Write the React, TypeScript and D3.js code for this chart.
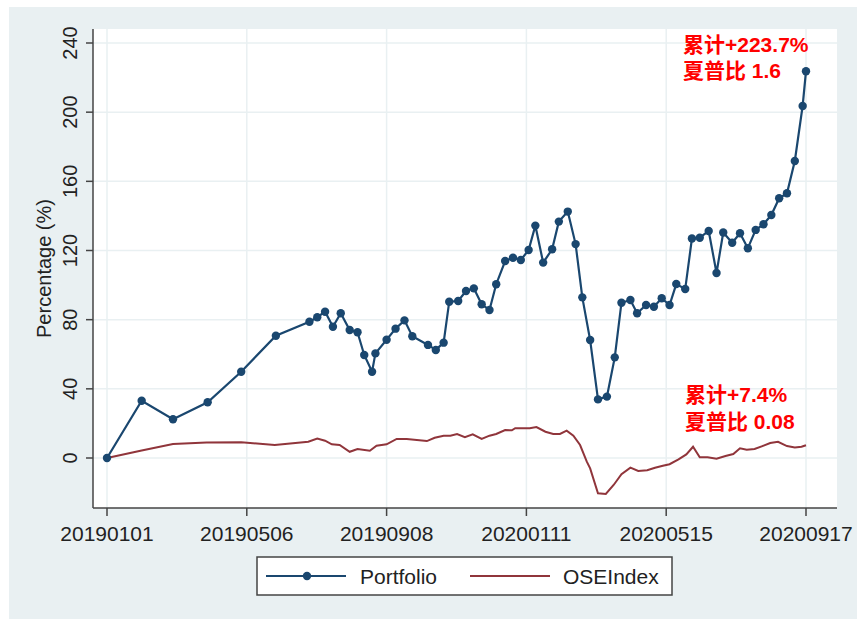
import React from "react";
import * as d3 from "d3";

const width = 859;
const height = 619;

// Portfolio cumulative return (%)
const portfolioDates = [
  "2019-01-01", "2019-02-01", "2019-03-01", "2019-04-01", "2019-05-01", "2019-06-01",
  "2019-07-01", "2019-07-08", "2019-07-15", "2019-07-22", "2019-07-29", "2019-08-06",
  "2019-08-13", "2019-08-19", "2019-08-26", "2019-08-29", "2019-09-08", "2019-09-16",
  "2019-09-24", "2019-10-01", "2019-10-15", "2019-10-22", "2019-10-29", "2019-11-03",
  "2019-11-11", "2019-11-18", "2019-11-25", "2019-12-02", "2019-12-09", "2019-12-15",
  "2019-12-23", "2019-12-30", "2020-01-06", "2020-01-13", "2020-01-19", "2020-01-26",
  "2020-02-03", "2020-02-09", "2020-02-17", "2020-02-24", "2020-03-01", "2020-03-08",
  "2020-03-15", "2020-03-23", "2020-03-30", "2020-04-05", "2020-04-13", "2020-04-19",
  "2020-04-27", "2020-05-04", "2020-05-11", "2020-05-18", "2020-05-24", "2020-06-01",
  "2020-06-07", "2020-06-14", "2020-06-22", "2020-06-29", "2020-07-05", "2020-07-13",
  "2020-07-20", "2020-07-27", "2020-08-03", "2020-08-10", "2020-08-17", "2020-08-24",
  "2020-08-31", "2020-09-07", "2020-09-14", "2020-09-17",
];
const portfolioValues = [
  0, 33.1, 22.4, 32.2, 49.9, 70.7,
  78.8, 81.4, 84.6, 75.9, 83.7, 74.0,
  72.7, 59.6, 49.9, 60.5, 68.4, 74.8,
  79.6, 70.4, 65.4, 62.5, 66.7, 90.4,
  90.8, 96.6, 98.1, 88.9, 85.6, 100.5,
  113.9, 115.8, 114.5, 120.3, 134.4, 113.0,
  120.7, 136.7, 142.5, 123.7, 92.9, 68.2,
  33.9, 35.5, 58.2, 89.8, 91.4, 83.7,
  88.5, 87.5, 92.4, 88.5, 100.6, 97.7,
  126.9, 127.4, 131.3, 107.0, 130.4, 124.5,
  130.0, 121.3, 131.9, 135.2, 140.5, 150.2,
  153.1, 171.8, 203.6, 223.7,
];

// OSE index cumulative return (%)
const oseDates = [
  "2019-01-01", "2019-02-01", "2019-03-01", "2019-03-31", "2019-05-01", "2019-05-31",
  "2019-06-30", "2019-07-08", "2019-07-15", "2019-07-21", "2019-07-28", "2019-08-06",
  "2019-08-13", "2019-08-24", "2019-08-30", "2019-09-08", "2019-09-17", "2019-09-26",
  "2019-10-14", "2019-10-21", "2019-10-29", "2019-11-04", "2019-11-10", "2019-11-17",
  "2019-11-24", "2019-12-02", "2019-12-09", "2019-12-15", "2019-12-23", "2019-12-29",
  "2020-01-01", "2020-01-14", "2020-01-20", "2020-01-28", "2020-02-04", "2020-02-10",
  "2020-02-16", "2020-02-22", "2020-02-28", "2020-03-05", "2020-03-08", "2020-03-15",
  "2020-03-22", "2020-03-29", "2020-04-05", "2020-04-13", "2020-04-20", "2020-04-28",
  "2020-05-05", "2020-05-12", "2020-05-18", "2020-05-26", "2020-06-02", "2020-06-08",
  "2020-06-14", "2020-06-21", "2020-06-29", "2020-07-07", "2020-07-14", "2020-07-20",
  "2020-07-26", "2020-08-02", "2020-08-09", "2020-08-16", "2020-08-23", "2020-08-31",
  "2020-09-07", "2020-09-13", "2020-09-17",
];
const oseValues = [
  0, 4.3, 8.1, 8.9, 9.1, 7.5,
  9.4, 11.2, 10.0, 7.9, 7.5, 3.6,
  5.2, 4.2, 7.1, 7.9, 11.0, 11.0,
  9.8, 11.7, 12.9, 12.9, 13.9, 12.1,
  13.7, 11.0, 12.9, 13.9, 16.2, 16.0,
  17.2, 17.2, 17.9, 15.2, 13.9, 13.9,
  15.8, 12.9, 7.5, -2.1, -6.0, -20.4,
  -20.8, -15.6, -9.4, -5.6, -7.5, -7.1,
  -5.6, -4.5, -3.6, -0.8, 2.1, 6.5,
  0.4, 0.4, -0.4, 1.2, 2.3, 5.6,
  4.8, 5.2, 6.9, 8.7, 9.4, 6.9,
  6.1, 6.5, 7.4,
];

const xTickLabels = ["20190101", "20190506", "20190908", "20200111", "20200515", "20200917"];
const yTicks = [0, 40, 80, 120, 160, 200, 240];
const seriesNames = ["Portfolio", "OSEIndex"];
const portfolioNote = ["累计+223.7%", "夏普比 1.6"];
const oseNote = ["累计+7.4%", "夏普比 0.08"];

const navy = "#1a476f";
const maroon = "#90353b";
const bg = "#e9f0f2";
const font = "'Liberation Sans', Arial, 'Noto Sans CJK SC', sans-serif";

const parseDay = d3.timeParse("%Y-%m-%d");
const parseTick = d3.timeParse("%Y%m%d");

// plot region
const left = 93;
const right = 837;
const top = 29;
const bottom = 508;

const x = d3
  .scaleTime()
  .domain([parseTick("20190101"), parseTick("20200917")])
  .range([107, 806]);
const y = d3.scaleLinear().domain([0, 240]).range([458, 43]);

const portfolio = portfolioDates.map((d, i) => ({ date: parseDay(d), value: portfolioValues[i] }));
const ose = oseDates.map((d, i) => ({ date: parseDay(d), value: oseValues[i] }));

const line = d3
  .line<{ date: Date; value: number }>()
  .x((d) => x(d.date))
  .y((d) => y(d.value));

export default function App() {
  return (
    <svg
      width={width}
      height={height}
      style={{ position: "absolute", left: 0, top: 0, background: "#fff" }}
      fontFamily={font}
    >
      <rect x={9} y={7} width={848} height={612} fill={bg} />
      <rect x={left} y={top} width={right - left} height={bottom - top} fill="#fff" />

      {/* grid */}
      {yTicks.map((t) => (
        <line key={"gy" + t} x1={left} x2={right} y1={y(t)} y2={y(t)} stroke={bg} strokeWidth={1.5} />
      ))}
      {xTickLabels.map((t) => (
        <line
          key={"gx" + t}
          x1={x(parseTick(t))}
          x2={x(parseTick(t))}
          y1={top}
          y2={bottom}
          stroke={bg}
          strokeWidth={1.5}
        />
      ))}

      {/* axes */}
      <line x1={left} x2={left} y1={top} y2={bottom} stroke="#444" strokeWidth={1.5} />
      <line x1={left} x2={right} y1={bottom} y2={bottom} stroke="#444" strokeWidth={1.5} />
      {yTicks.map((t) => (
        <g key={"ty" + t}>
          <line x1={left - 7} x2={left} y1={y(t)} y2={y(t)} stroke="#444" strokeWidth={1.5} />
          <text
            transform={`translate(77, ${y(t)}) rotate(-90)`}
            textAnchor="middle"
            fontSize={20}
            fill="#222"
          >
            {t}
          </text>
        </g>
      ))}
      {xTickLabels.map((t) => (
        <g key={"tx" + t}>
          <line
            x1={x(parseTick(t))}
            x2={x(parseTick(t))}
            y1={bottom}
            y2={bottom + 8}
            stroke="#444"
            strokeWidth={1.5}
          />
          <text x={x(parseTick(t))} y={541} textAnchor="middle" fontSize={21} fill="#222">
            {t}
          </text>
        </g>
      ))}
      <text
        transform={`translate(51, ${(top + bottom) / 2}) rotate(-90)`}
        textAnchor="middle"
        fontSize={20}
        fill="#222"
      >
        Percentage (%)
      </text>

      {/* series */}
      <path d={line(ose) || ""} fill="none" stroke={maroon} strokeWidth={2} />
      <path d={line(portfolio) || ""} fill="none" stroke={navy} strokeWidth={2.2} />
      {portfolio.map((d, i) => (
        <circle key={i} cx={x(d.date)} cy={y(d.value)} r={4.2} fill={navy} />
      ))}

      {/* notes */}
      <g fill="#ff0000" fontWeight="bold" fontSize={21}>
        {portfolioNote.map((s, i) => (
          <text key={s} x={683} y={52 + i * 26}>
            {s}
          </text>
        ))}
        {oseNote.map((s, i) => (
          <text key={s} x={685} y={402 + i * 27}>
            {s}
          </text>
        ))}
      </g>

      {/* legend */}
      <rect x={257} y={557} width={415} height={38} fill="#fff" stroke="#444" strokeWidth={1.5} />
      <line x1={266} x2={346} y1={576} y2={576} stroke={navy} strokeWidth={2} />
      <circle cx={307} cy={576} r={4.2} fill={navy} />
      <text x={360} y={584} fontSize={21} fill="#222">
        {seriesNames[0]}
      </text>
      <line x1={470} x2={550} y1={576} y2={576} stroke={maroon} strokeWidth={2} />
      <text x={563} y={584} fontSize={21} fill="#222">
        {seriesNames[1]}
      </text>
    </svg>
  );
}
